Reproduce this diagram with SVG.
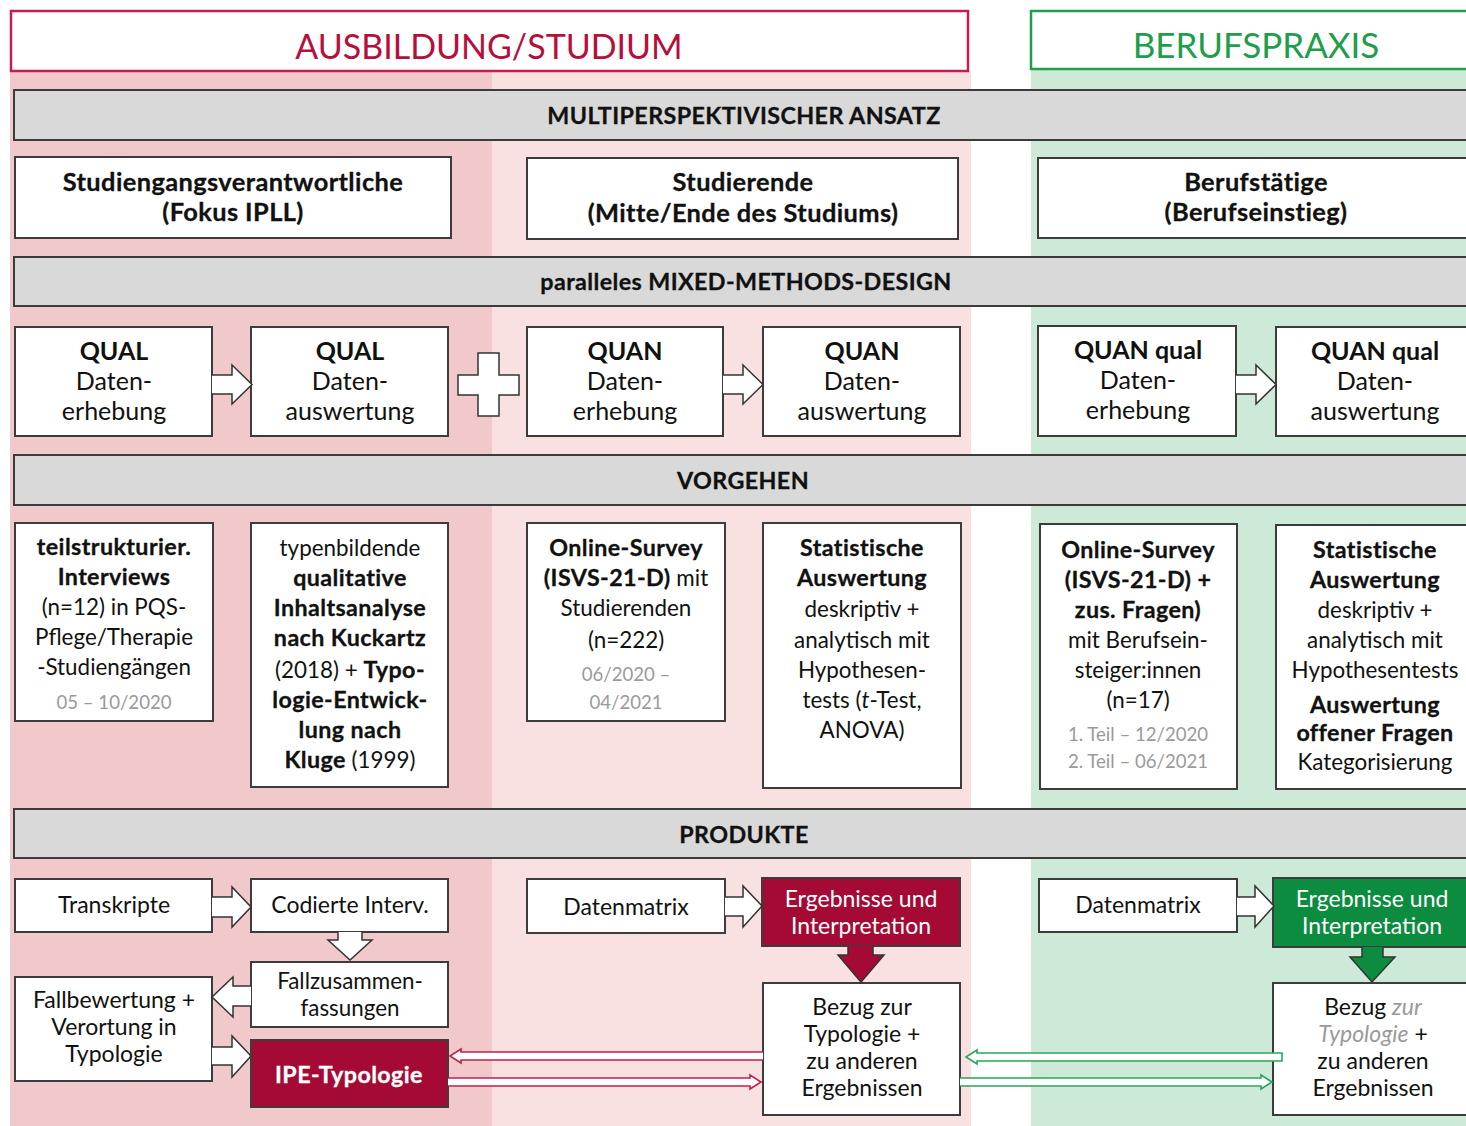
<svg xmlns="http://www.w3.org/2000/svg" width="1466" height="1126" viewBox="0 0 1466 1126">
<style>
text{font-family:Lato,"Noto Sans",sans-serif;fill:#111;text-anchor:middle}
.b{font-weight:700}
.k{font-weight:700;letter-spacing:0.4px;stroke:#111;stroke-width:0.3px}
.kw{fill:#fff;stroke:#fff}
.k23{font-size:23.3px}
.k25{font-size:25.4px}
.i{font-style:italic}
.g{fill:#9a9a9a}
.w{fill:#fff}
.box{fill:#fff;stroke:#3c3c3c;stroke-width:2}
.bar{fill:#d9d9d9;stroke:#3c3c3c;stroke-width:2}
.arr{fill:#fff;stroke:#333;stroke-width:1.5}
.s25{font-size:25px}
.s22{font-size:22.4px}
.s23{font-size:23px}
.s19{font-size:18.6px}
</style>
<rect width="1466" height="1126" fill="#fff"/>
<g id="backgrounds">
<rect x="10" y="71" width="482" height="1055" fill="#f2c9cb"/>
<rect x="492" y="71" width="479" height="1055" fill="#f9e1e2"/>
<rect x="1031" y="70" width="440" height="1056" fill="#cde9d7"/>
</g>
<g id="header-ausbildung">
<rect x="11" y="11" width="957" height="60" fill="#fff" stroke="#c21e4f" stroke-width="2.5"/>
<text x="489" y="59" style="font-size:34px;fill:#b5103c">AUSBILDUNG/STUDIUM</text>
</g>
<g id="header-berufspraxis">
<rect x="1031" y="11" width="440" height="58" fill="#fff" stroke="#1e9e4a" stroke-width="2.5"/>
<text x="1256" y="58" style="font-size:35px;fill:#1e9e4a">BERUFSPRAXIS</text>
</g>
<g id="bar-multiperspektivisch">
<rect class="bar" x="14" y="90" width="1460" height="50"/>
<text class="k k23" x="744" y="124">MULTIPERSPEKTIVISCHER ANSATZ</text>
</g>
<g id="node-studiengangsverantwortliche">
<rect class="box" x="15" y="157" width="436" height="81"/>
<text class="k k25" x="233" y="191">Studiengangsverantwortliche</text>
<text class="k k25" x="233" y="221">(Fokus IPLL)</text>
</g>
<g id="node-studierende">
<rect class="box" x="527" y="158" width="431" height="81"/>
<text class="k k25" x="743" y="191">Studierende</text>
<text class="k k25" x="743" y="222">(Mitte/Ende des Studiums)</text>
</g>
<g id="node-berufstaetige">
<rect class="box" x="1038" y="158" width="440" height="80"/>
<text class="k k25" x="1256" y="191">Berufstätige</text>
<text class="k k25" x="1256" y="221">(Berufseinstieg)</text>
</g>
<g id="bar-mixed-methods">
<rect class="bar" x="14" y="257" width="1460" height="49"/>
<text class="k k23" x="746" y="290">paralleles MIXED-METHODS-DESIGN</text>
</g>
<g id="node-qual-erhebung">
<rect class="box" x="15" y="327" width="197" height="109"/>
<text class="b s25" x="114" y="360">QUAL</text>
<text class="s25" x="114" y="390">Daten-</text>
<text class="s25" x="114" y="420">erhebung</text>
</g>
<g id="node-qual-auswertung">
<rect class="box" x="251" y="327" width="197" height="109"/>
<text class="b s25" x="350" y="360">QUAL</text>
<text class="s25" x="350" y="390">Daten-</text>
<text class="s25" x="350" y="420">auswertung</text>
</g>
<g id="node-quan-erhebung">
<rect class="box" x="527" y="327" width="196" height="109"/>
<text class="b s25" x="625" y="360">QUAN</text>
<text class="s25" x="625" y="390">Daten-</text>
<text class="s25" x="625" y="420">erhebung</text>
</g>
<g id="node-quan-auswertung">
<rect class="box" x="763" y="327" width="197" height="109"/>
<text class="b s25" x="862" y="360">QUAN</text>
<text class="s25" x="862" y="390">Daten-</text>
<text class="s25" x="862" y="420">auswertung</text>
</g>
<g id="node-quanqual-erhebung">
<rect class="box" x="1038" y="326" width="198" height="110"/>
<text class="b s25" x="1138" y="359">QUAN qual</text>
<text class="s25" x="1138" y="389">Daten-</text>
<text class="s25" x="1138" y="419">erhebung</text>
</g>
<g id="node-quanqual-auswertung">
<rect class="box" x="1276" y="327" width="200" height="109"/>
<text class="b s25" x="1375" y="360">QUAN qual</text>
<text class="s25" x="1375" y="390">Daten-</text>
<text class="s25" x="1375" y="420">auswertung</text>
</g>
<g id="bar-vorgehen">
<rect class="bar" x="14" y="455" width="1460" height="50"/>
<text class="k k23" x="743" y="489">VORGEHEN</text>
</g>
<g id="node-interviews">
<rect class="box" x="15" y="523" width="198" height="198"/>
<text class="k k23" x="114" y="555">teilstrukturier.</text>
<text class="k k23" x="114" y="585">Interviews</text>
<text class="s22" x="114" y="615">(n=12) in PQS-</text>
<text class="s22" x="114" y="645">Pflege/Therapie</text>
<text class="s22" x="114" y="675">-Studiengängen</text>
<text class="s19 g" x="114" y="709">05 – 10/2020</text>
</g>
<g id="node-inhaltsanalyse">
<rect class="box" x="251" y="523" width="197" height="264"/>
<text class="s22" x="350" y="556">typenbildende</text>
<text class="k k23" x="350" y="586">qualitative</text>
<text class="k k23" x="350" y="616">Inhaltsanalyse</text>
<text class="k k23" x="350" y="646">nach Kuckartz</text>
<text class="s22" x="350" y="678">(2018) + <tspan class="k k23">Typo-</tspan></text>
<text class="k k23" x="350" y="708">logie-Entwick-</text>
<text class="k k23" x="350" y="738">lung nach</text>
<text class="s22" x="350" y="768"><tspan class="k k23">Kluge</tspan> (1999)</text>
</g>
<g id="node-survey-studierende">
<rect class="box" x="527" y="523" width="198" height="198"/>
<text class="k k23" x="626" y="556">Online-Survey</text>
<text class="s22" x="626" y="586"><tspan class="k k23">(ISVS-21-D)</tspan> mit</text>
<text class="s22" x="626" y="616">Studierenden</text>
<text class="s22" x="626" y="648">(n=222)</text>
<text class="s19 g" x="626" y="681">06/2020 –</text>
<text class="s19 g" x="626" y="709">04/2021</text>
</g>
<g id="node-statistik-studierende">
<rect class="box" x="763" y="523" width="198" height="265"/>
<text class="k k23" x="862" y="556">Statistische</text>
<text class="k k23" x="862" y="586">Auswertung</text>
<text class="s22" x="862" y="617">deskriptiv +</text>
<text class="s22" x="862" y="648">analytisch mit</text>
<text class="s22" x="862" y="678">Hypothesen-</text>
<text class="s22" x="862" y="708">tests (<tspan class="i">t</tspan>-Test,</text>
<text class="s22" x="862" y="738">ANOVA)</text>
</g>
<g id="node-survey-berufseinsteiger">
<rect class="box" x="1040" y="524" width="197" height="265"/>
<text class="k k23" x="1138" y="558">Online-Survey</text>
<text class="k k23" x="1138" y="588">(ISVS-21-D) +</text>
<text class="k k23" x="1138" y="618">zus. Fragen)</text>
<text class="s22" x="1138" y="648">mit Berufsein-</text>
<text class="s22" x="1138" y="678">steiger:innen</text>
<text class="s22" x="1138" y="708">(n=17)</text>
<text class="s19 g" x="1138" y="741">1. Teil – 12/2020</text>
<text class="s19 g" x="1138" y="768">2. Teil – 06/2021</text>
</g>
<g id="node-statistik-berufseinsteiger">
<rect class="box" x="1276" y="525" width="200" height="264"/>
<text class="k k23" x="1375" y="558">Statistische</text>
<text class="k k23" x="1375" y="588">Auswertung</text>
<text class="s22" x="1375" y="618">deskriptiv +</text>
<text class="s22" x="1375" y="648">analytisch mit</text>
<text class="s22" x="1375" y="678">Hypothesentests</text>
<text class="k k23" x="1375" y="713">Auswertung</text>
<text class="k k23" x="1375" y="741">offener Fragen</text>
<text class="s22" x="1375" y="770">Kategorisierung</text>
</g>
<g id="bar-produkte">
<rect class="bar" x="14" y="809" width="1460" height="49"/>
<text class="k k23" x="744" y="843">PRODUKTE</text>
</g>
<g id="node-transkripte">
<rect class="box" x="15" y="879" width="197" height="53"/>
<text class="s23" x="114" y="913">Transkripte</text>
</g>
<g id="node-codierte">
<rect class="box" x="251" y="879" width="197" height="53"/>
<text class="s23" x="350" y="913">Codierte Interv.</text>
</g>
<g id="node-fallzusammenfassungen">
<rect class="box" x="251" y="962" width="197" height="65"/>
<text class="s22" x="350" y="989">Fallzusammen-</text>
<text class="s22" x="350" y="1016">fassungen</text>
</g>
<g id="node-fallbewertung">
<rect class="box" x="15" y="977" width="197" height="104"/>
<text class="s23" x="114" y="1008">Fallbewertung +</text>
<text class="s23" x="114" y="1035">Verortung in</text>
<text class="s23" x="114" y="1062">Typologie</text>
</g>
<g id="node-ipe-typologie">
<rect x="251" y="1040" width="197" height="67" fill="#a50a35" stroke="#3c3c3c" stroke-width="2"/>
<text class="k k23 kw" x="349" y="1083">IPE-Typologie</text>
</g>
<g id="node-datenmatrix-studierende">
<rect class="box" x="527" y="879" width="198" height="54"/>
<text class="s23" x="626" y="915">Datenmatrix</text>
</g>
<g id="node-ergebnisse-studierende">
<rect x="762" y="878" width="198" height="68" fill="#a50a35" stroke="#3c3c3c" stroke-width="2"/>
<text class="s23 w" x="861" y="907">Ergebnisse und</text>
<text class="s23 w" x="861" y="934">Interpretation</text>
</g>
<g id="node-bezug-studierende">
<rect class="box" x="763" y="983" width="197" height="132"/>
<text class="s23" x="862" y="1015">Bezug zur</text>
<text class="s23" x="862" y="1042">Typologie +</text>
<text class="s23" x="862" y="1069">zu anderen</text>
<text class="s23" x="862" y="1096">Ergebnissen</text>
</g>
<g id="node-datenmatrix-beruf">
<rect class="box" x="1039" y="879" width="198" height="53"/>
<text class="s23" x="1138" y="913">Datenmatrix</text>
</g>
<g id="node-ergebnisse-beruf">
<rect x="1273" y="878" width="200" height="69" fill="#0b8c3e" stroke="#3c3c3c" stroke-width="2"/>
<text class="s23 w" x="1372" y="907">Ergebnisse und</text>
<text class="s23 w" x="1372" y="934">Interpretation</text>
</g>
<g id="node-bezug-beruf">
<rect class="box" x="1273" y="983" width="200" height="132"/>
<text class="s23" x="1373" y="1015">Bezug <tspan class="i g">zur</tspan></text>
<text class="s23" x="1373" y="1042"><tspan class="i g">Typologie</tspan> +</text>
<text class="s23" x="1373" y="1069">zu anderen</text>
<text class="s23" x="1373" y="1096">Ergebnissen</text>
</g>
<g id="connectors">
<path class="arr" d="M212,375 H232 V365 L252,384.5 L232,404 V394 H212"/>
<path class="arr" d="M478,353 H499 V375 H519 V395 H499 V416 H478 V395 H458 V375 H478 Z"/>
<path class="arr" d="M723,375 H743 V365 L763,384.5 L743,404 V394 H723"/>
<path class="arr" d="M1236,375 H1256 V365 L1276,384.5 L1256,404 V394 H1236"/>
<path class="arr" d="M212,897 H232 V887 L251,907 L232,927 V917 H212"/>
<path class="arr" d="M338,932 V940 H328 L350,960 L372,940 H362 V932"/>
<path class="arr" d="M251,986 H233 V977 L212,997 L233,1017 V1006 H251"/>
<path class="arr" d="M212,1047 H232 V1036 L251,1056 L232,1077 V1065 H212"/>
<path class="arr" d="M725,897 H743 V886 L762,906 L743,927 V916 H725"/>
<path class="arr" d="M1237,897 H1255 V886 L1274,906 L1255,927 V916 H1237"/>
<path d="M848,946 V955 H838 L861,982 L884,955 H873 V946" fill="#a50a35" stroke="#333" stroke-width="1.5"/>
<path d="M1362,947 V957 H1350 L1372,982 L1395,957 H1383 V947" fill="#0b8c3e" stroke="#333" stroke-width="1.5"/>
<path d="M763,1052 H461 V1049 L450,1056 L461,1063 V1060 H763" fill="#fff" stroke="#c21e4f" stroke-width="1.6"/>
<path d="M448,1078 H750 V1075 L761,1082 L750,1089 V1086 H448" fill="#fff" stroke="#c21e4f" stroke-width="1.6"/>
<path d="M1282,1053 H977 V1050 L966,1057 L977,1064 V1061 H1282 Z" fill="#fff" stroke="#2aa65a" stroke-width="1.6"/>
<path d="M960,1078 H1261 V1075 L1272,1082 L1261,1089 V1086 H960" fill="#fff" stroke="#2aa65a" stroke-width="1.6"/>
</g>
</svg>
